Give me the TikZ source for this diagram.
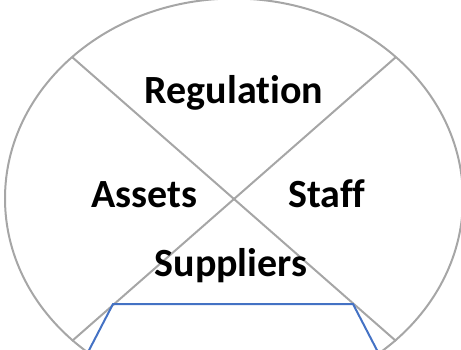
\documentclass[tikz,border=0pt]{standalone}
\usepackage{fontspec}
\setmainfont{Carlito}[Ligatures=NoCommon]
\usetikzlibrary{calc}
\definecolor{rimgray}{HTML}{A6A6A6}
\definecolor{trapblue}{HTML}{4472C4}
\tikzset{
  rim/.style={draw=rimgray, line width=2pt},
  quarter/.style={font=\bfseries\fontsize{40}{44}\selectfont, inner sep=0pt}
}

\begin{document}
\begin{tikzpicture}[x=1pt, y=-1pt]
			%%%%% START %%%%%
			\useasboundingbox (0, 0) rectangle (461, 349);
			\clip (0, 0) rectangle (461, 349);
			
			\coordinate (mid) at (234, 198.5);
			\coordinate (nw) at (72, 57);
			\coordinate (ne) at (396, 57);
			\coordinate (sw) at (72, 341);
			\coordinate (se) at (396, 341);
			
			\draw[rim] (mid) ellipse [x radius=229, y radius=200];
			\draw[rim] (nw) -- (se);
			\draw[rim] (ne) -- (sw);
			
			\coordinate (tl) at (113, 304);
			\coordinate (tr) at (353, 304);
			\coordinate (bl) at (86, 356);
			\coordinate (br) at (380, 356);
			\draw[trapblue, line width=2pt, line join=miter] (bl) -- (tl) -- (tr) -- (br);
			
			\node[quarter, anchor=base] (regulation) at (234, 103) {Regulation};
			\node[quarter, anchor=base] (assets) at (144, 207) {Assets};
			\node[quarter, anchor=base] (staff) at (327, 207) {Staff};
			\node[quarter, anchor=base] (suppliers) at (231, 276) {Suppliers};
			%%%%% END %%%%%
\end{tikzpicture}
\end{document}
